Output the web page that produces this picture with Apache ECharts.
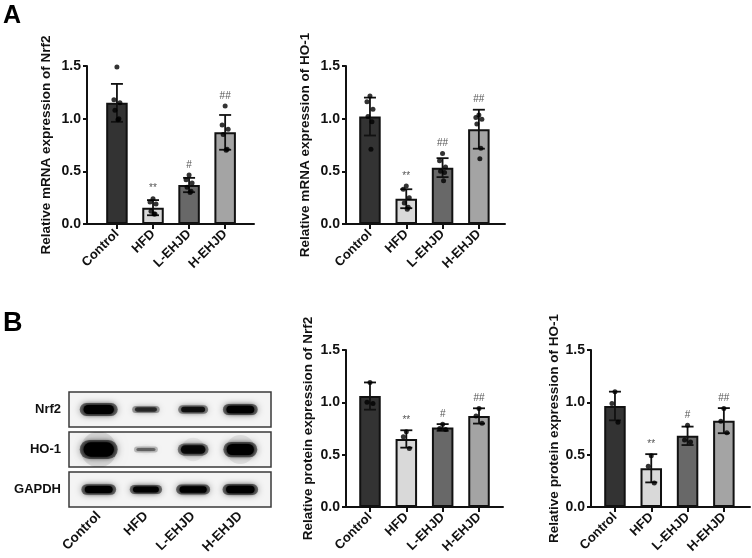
<!DOCTYPE html>
<html><head><meta charset="utf-8">
<script src="https://cdn.jsdelivr.net/npm/echarts@6/dist/echarts.min.js"></script>
<style>html,body{margin:0;padding:0;background:#fff}#c{width:752px;height:558px}</style>
</head><body><div id="c"></div>
<script>
// ---------- data ----------
const groups = ['Control', 'HFD', 'L-EHJD', 'H-EHJD'];
const sigMarks = ['', '**', '#', '##'];
const sigMarksA2 = ['', '**', '##', '##'];

// A left: Relative mRNA expression of Nrf2
const mrnaNrf2Mean = [1.15, 0.155, 0.37, 0.87];
const mrnaNrf2Sd = [0.18, 0.072, 0.068, 0.165];
const mrnaNrf2Pts = [
  [1.49, 1.18, 1.15, 1.08, 1.00, 0.99],
  [0.24, 0.21, 0.19, 0.12, 0.095, 0.095],
  [0.465, 0.42, 0.39, 0.35, 0.31, 0.30],
  [1.12, 0.94, 0.90, 0.85, 0.71, 0.70]
];
// A right: Relative mRNA expression of HO-1
const mrnaHo1Mean = [1.02, 0.24, 0.535, 0.90];
const mrnaHo1Sd = [0.18, 0.09, 0.09, 0.185];
const mrnaHo1Pts = [
  [1.215, 1.16, 1.09, 1.02, 0.97, 0.71],
  [0.36, 0.33, 0.25, 0.20, 0.16, 0.14],
  [0.67, 0.60, 0.54, 0.50, 0.49, 0.41],
  [1.035, 1.01, 0.995, 0.95, 0.72, 0.62]
];
// B middle: Relative protein expression of Nrf2
const protNrf2Mean = [1.06, 0.65, 0.76, 0.87];
const protNrf2Sd = [0.13, 0.083, 0.032, 0.073];
const protNrf2Pts = [
  [1.19, 1.00, 0.99],
  [0.72, 0.67, 0.56],
  [0.79, 0.75, 0.74],
  [0.94, 0.87, 0.80]
];
// B right: Relative protein expression of HO-1
const protHo1Mean = [0.965, 0.37, 0.68, 0.825];
const protHo1Sd = [0.137, 0.135, 0.088, 0.12];
const protHo1Pts = [
  [1.10, 0.99, 0.81],
  [0.49, 0.39, 0.23],
  [0.78, 0.64, 0.62],
  [0.94, 0.82, 0.71]
];
// Western blot band densities (relative signal per lane)
const blotRows = ['Nrf2', 'HO-1', 'GAPDH'];
const bandNrf2 = [1.0, 0.35, 0.5, 0.8];
const bandHo1 = [1.0, 0.12, 0.55, 0.75];
const bandGapdh = [0.8, 0.65, 0.75, 0.85];

// ---------- styles ----------
const FONT = "'Liberation Sans', Arial, sans-serif";
const barFills = ['#333333', '#d9d9d9', '#686868', '#a4a4a4'];
const jitter = [0, -3, 3, -2, 2, 1];
const rowGain = [9, 15, 8];
const rowHalo = [0, 1, 0];

const chart = echarts.init(document.getElementById('c'), null, {renderer: 'canvas'});
const grids = [], xAxes = [], yAxes = [], series = [];

function addBarChart(rect, name, nameGap, xmin, xmax, means, sds, pts, sig) {
  const gi = grids.length;
  grids.push(Object.assign({containLabel: false}, rect));
  xAxes.push({
    gridIndex: gi, type: 'value', min: xmin, max: xmax,
    splitLine: {show: false},
    axisLine: {show: true, onZero: false, lineStyle: {color: '#111', width: 2}},
    axisTick: {show: true, customValues: [0, 1, 2, 3], length: 5, lineStyle: {color: '#111', width: 2}},
    axisLabel: {show: true, customValues: [0, 1, 2, 3], formatter: v => groups[Math.round(v)],
      rotate: 45, margin: 8, color: '#111', fontWeight: 'bold', fontSize: 13, fontFamily: FONT}
  });
  yAxes.push({
    gridIndex: gi, type: 'value', min: 0, max: 1.5, interval: 0.5,
    name: name, nameLocation: 'middle', nameGap: nameGap,
    nameTextStyle: {color: '#111', fontWeight: 'bold', fontSize: 13.5, fontFamily: FONT},
    splitLine: {show: false},
    axisLine: {show: true, onZero: false, lineStyle: {color: '#111', width: 2}},
    axisTick: {show: true, length: 4, lineStyle: {color: '#111', width: 2}},
    axisLabel: {formatter: v => v.toFixed(1), margin: 6, color: '#111', fontWeight: 'bold', fontSize: 14, fontFamily: FONT}
  });
  series.push({
    type: 'bar', xAxisIndex: gi, yAxisIndex: gi, barWidth: 21.5,
    data: means.map((m, i) => ({value: [i, m], itemStyle: {color: barFills[i]}})),
    itemStyle: {borderColor: '#111', borderWidth: 2},
    emphasis: {disabled: true}, z: 2
  });
  series.push({
    type: 'custom', xAxisIndex: gi, yAxisIndex: gi, z: 3,
    encode: {x: 0, y: [1, 2]},
    data: means.map((m, i) => [i, m - sds[i], m + sds[i]]),
    renderItem: (params, api) => {
      const x = api.value(0);
      const t = api.coord([x, api.value(2)]), b = api.coord([x, api.value(1)]);
      const c = 6, st = {stroke: '#111', lineWidth: 1.8};
      return {type: 'group', children: [
        {type: 'line', shape: {x1: t[0], y1: t[1], x2: b[0], y2: b[1]}, style: st},
        {type: 'line', shape: {x1: t[0] - c, y1: t[1], x2: t[0] + c, y2: t[1]}, style: st},
        {type: 'line', shape: {x1: b[0] - c, y1: b[1], x2: b[0] + c, y2: b[1]}, style: st}
      ]};
    }
  });
  const sc = [];
  pts.forEach((arr, i) => arr.forEach((v, j) => sc.push({value: [i, v], symbolOffset: [jitter[j % jitter.length], 0]})));
  series.push({
    type: 'scatter', xAxisIndex: gi, yAxisIndex: gi, z: 4, symbolSize: 5,
    itemStyle: {color: '#000'}, data: sc, emphasis: {disabled: true}
  });
  const sigData = [];
  means.forEach((m, i) => { if (sig[i]) sigData.push([i, Math.max(m + sds[i], Math.max.apply(null, pts[i])), sig[i]]); });
  series.push({
    type: 'custom', xAxisIndex: gi, yAxisIndex: gi, z: 5,
    encode: {x: 0, y: 1},
    data: sigData,
    renderItem: (params, api) => {
      const p = api.coord([api.value(0), api.value(1)]);
      return {type: 'text', x: p[0], y: p[1] - 10, style: {text: sigData[params.dataIndex][2], textAlign: 'center',
        textVerticalAlign: 'middle', fill: '#555', font: '10px ' + FONT}};
    }
  });
}

addBarChart({left: 87, top: 66, width: 167, height: 158}, 'Relative mRNA expression of Nrf2', 34, -0.83, 3.8,
  mrnaNrf2Mean, mrnaNrf2Sd, mrnaNrf2Pts, sigMarks);
addBarChart({left: 346, top: 66, width: 159, height: 158}, 'Relative mRNA expression of HO-1', 34, -0.66, 3.72,
  mrnaHo1Mean, mrnaHo1Sd, mrnaHo1Pts, sigMarksA2);
addBarChart({left: 346, top: 350, width: 157, height: 157}, 'Relative protein expression of Nrf2', 31, -0.66, 3.66,
  protNrf2Mean, protNrf2Sd, protNrf2Pts, sigMarks);
addBarChart({left: 591, top: 350, width: 159, height: 157}, 'Relative protein expression of HO-1', 29, -0.66, 3.72,
  protHo1Mean, protHo1Sd, protHo1Pts, sigMarks);

// ---------- western blot ----------
const bands = [bandNrf2, bandHo1, bandGapdh];
const rowTops = [392, 432, 472];
blotRows.forEach((row, r) => {
  const gi = grids.length;
  grids.push({left: 69, top: rowTops[r], width: 202, height: 35, show: true,
    borderColor: '#3a3a3a', borderWidth: 1.5, backgroundColor: '#f4f4f4'});
  const last = r === blotRows.length - 1;
  xAxes.push({
    gridIndex: gi, type: 'value', min: -0.63, max: 3.65,
    splitLine: {show: false}, axisLine: {show: false}, axisTick: {show: false},
    axisLabel: {show: last, customValues: [0, 1, 2, 3], formatter: v => groups[Math.round(v)],
      rotate: 45, margin: 7, color: '#111', fontWeight: 'bold', fontSize: 13.5, fontFamily: FONT}
  });
  yAxes.push({
    gridIndex: gi, type: 'category', data: [row],
    axisLine: {show: false}, axisTick: {show: false}, splitLine: {show: false},
    axisLabel: {margin: 8, color: '#111', fontWeight: 'bold', fontSize: 13, fontFamily: FONT}
  });
  const gain = rowGain[r], halo = rowHalo[r];
  series.push({
    type: 'custom', xAxisIndex: gi, yAxisIndex: gi, clip: true,
    encode: {x: 0, y: 1},
    data: bands[r].map((s, i) => [i, 0, s]),
    renderItem: (params, api) => {
      const s = api.value(2);
      const p = api.coord([api.value(0), 0]);
      const w = 22 + 16 * s, h = 2 + gain * s;
      const a = Math.min(1, 0.3 + 1.0 * s);
      const children = [];
      if (halo) {
        children.push({type: 'circle', shape: {cx: p[0], cy: p[1], r: 14 * s + 4},
          style: {fill: 'rgba(0,0,0,' + (0.10 * s).toFixed(3) + ')', shadowBlur: 22, shadowColor: 'rgba(0,0,0,' + (0.45 * s).toFixed(3) + ')'}});
      }
      // soft outer layer, tapered
      children.push({type: 'rect', shape: {x: p[0] - w / 2, y: p[1] - h / 2 - 1, width: w, height: h + 2, r: (h + 2) / 2},
        style: {fill: 'rgba(0,0,0,' + (a * 0.5).toFixed(3) + ')', shadowBlur: 7, shadowColor: 'rgba(0,0,0,' + (a * 0.7).toFixed(3) + ')'}});
      // dense core
      children.push({type: 'rect', shape: {x: p[0] - w * 0.4, y: p[1] - h * 0.42, width: w * 0.8, height: h * 0.84, r: h * 0.42},
        style: {fill: 'rgba(0,0,0,' + a.toFixed(3) + ')', shadowBlur: 4, shadowColor: 'rgba(0,0,0,' + a.toFixed(3) + ')'}});
      return {type: 'group', children: children};
    }
  });
});

chart.setOption({
  animation: false,
  backgroundColor: '#ffffff',
  grid: grids, xAxis: xAxes, yAxis: yAxes, series: series,
  graphic: [
    {type: 'text', left: 3, top: 4, style: {text: 'A', fill: '#000', font: 'bold 25px ' + FONT}},
    {type: 'text', left: 3, top: 310, style: {text: 'B', fill: '#000', font: 'bold 27px ' + FONT}}
  ]
});
</script></body></html>
